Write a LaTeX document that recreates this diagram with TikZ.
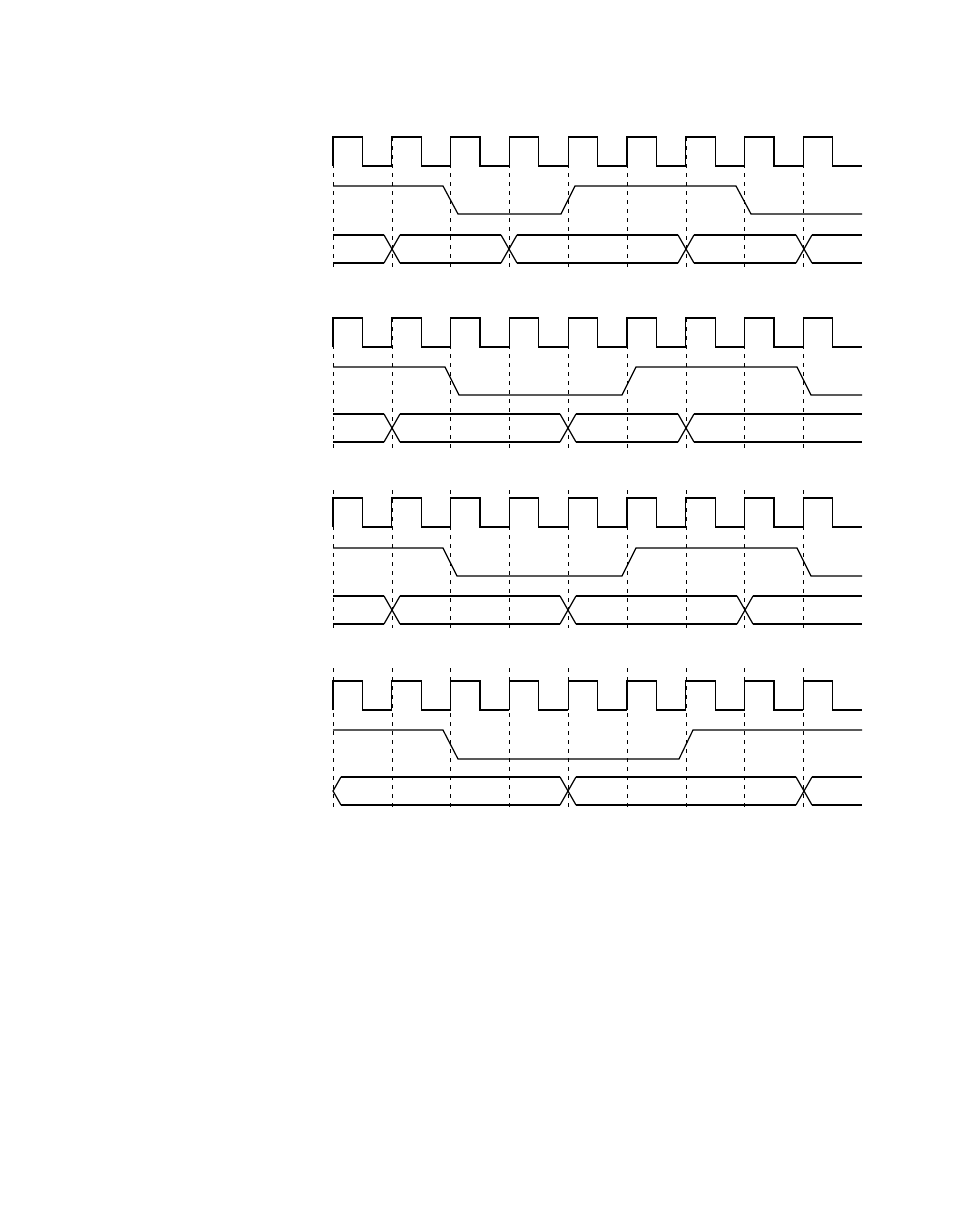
\documentclass[tikz,border=0pt]{standalone}
\begin{document}
\begin{tikzpicture}[x=1pt,y=-1pt,line join=miter,
  wave/.style={line width=1.2pt},
  grid/.style={line width=0.5pt,dash pattern=on 4pt off 5pt}]
\useasboundingbox (0,0) rectangle (954,1227);
\newcommand\clk[1]{%
  \foreach \i in {0,...,8}{%
    \pgfmathsetmacro\xa{333+58.8*\i}\pgfmathsetmacro\xb{\xa+29.4}\pgfmathsetmacro\xc{\xa+58.8}%
    \draw[wave] (\xa,#1+29) -- (\xa,#1) -- (\xb,#1) -- (\xb,#1+29) -- (\xc,#1+29);}}
\newcommand\grd[2]{%
  \foreach \i in {0,...,8}{\pgfmathsetmacro\xa{333+58.8*\i}\draw[grid] (\xa,#1) -- (\xa,#2);}}
\newcommand\bus[3]{% d, crossings, segments
  \foreach \X in {#2}{\draw[wave] (\X-8,#1) -- (\X+8,#1+28) (\X-8,#1+28) -- (\X+8,#1);}
  \foreach \a/\b in {#3}{\draw[wave] (\a,#1) -- (\b,#1) (\a,#1+28) -- (\b,#1+28);}}
% panel 1
\grd{137}{268}\clk{137}
\draw[wave] (333,186)--(443,186)--(458,214)--(561,214)--(575,186)--(736,186)--(751,214)--(862,214);
\bus{235}{392,509,686,804}{333/384,400/501,517/678,694/796,812/862}
% panel 2
\grd{318}{448}\clk{318}
\draw[wave] (333,367)--(445,367)--(459,395)--(622,395)--(636,367)--(797,367)--(811,395)--(862,395);
\bus{414}{392,568,686}{333/384,400/560,576/678,694/862}
% panel 3
\grd{490}{628}\clk{498}
\draw[wave] (333,548)--(443,548)--(457,576)--(622,576)--(636,548)--(797,548)--(811,576)--(862,576);
\bus{596}{392,568,745}{333/384,400/560,576/737,753/862}
% panel 4
\grd{668}{810}\clk{681}
\draw[wave] (333,730)--(443,730)--(458,759)--(679,759)--(693,730)--(862,730);
\draw[wave] (341,777)--(333,791)--(341,805);
\bus{777}{568,804}{341/560,576/796,812/862}
\end{tikzpicture}
\end{document}
